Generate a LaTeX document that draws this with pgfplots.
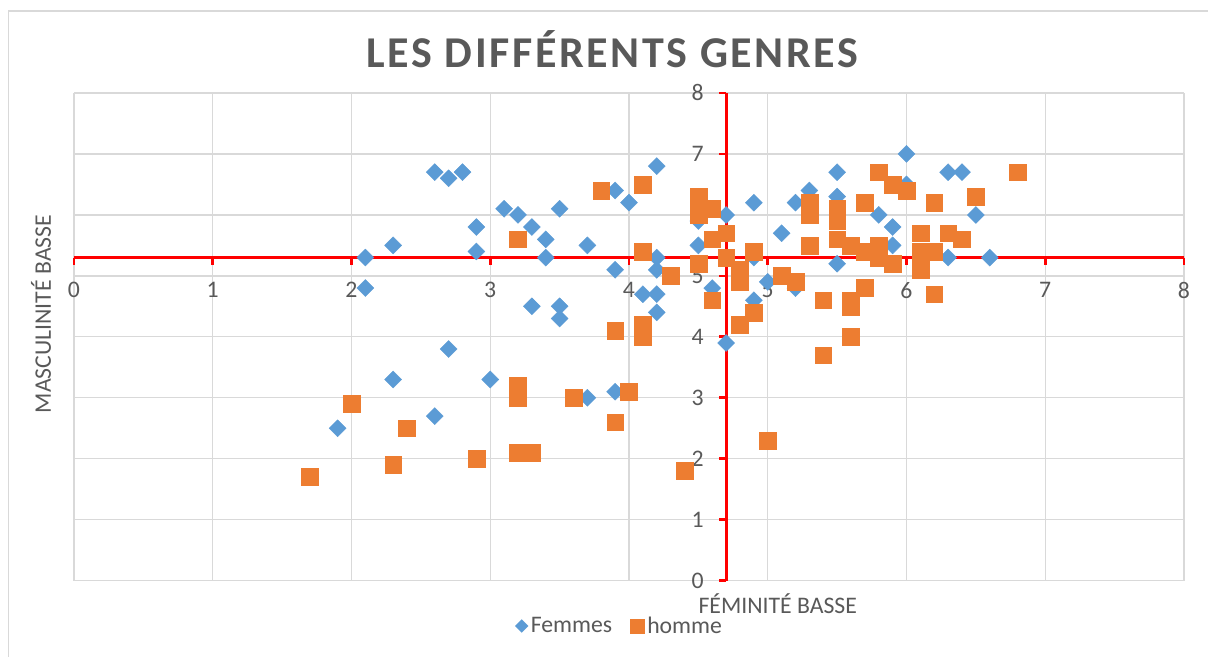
\documentclass[border=0pt]{standalone}
\usepackage{pgfplots}
\pgfplotsset{compat=1.18}
\usepackage{pgfplotstable}
\usepackage{fontspec}
\setmainfont{Carlito}
\newfontfamily\titlefont[LetterSpace=6]{Carlito}
\definecolor{blueF}{HTML}{5B9BD5}
\definecolor{orangeH}{HTML}{ED7D31}
\definecolor{txtgray}{HTML}{595959}
\definecolor{gridgray}{HTML}{D9D9D9}

\pgfplotsset{
  femlegend/.style={legend image code/.code={\draw[##1, mark size=3.4pt, mark repeat=2, mark phase=2] plot coordinates {(0cm,0cm) (0.3cm,0cm) (0.6cm,0cm)};}},
  homlegend/.style={legend image code/.code={\draw[##1, mark size=5.4pt, mark repeat=2, mark phase=2] plot coordinates {(0cm,0cm) (0.25cm,0cm) (0.6cm,0cm)};}},
}

\pgfplotstableread{
x y
1.9 2.5
2.1 5.3
2.1 4.8
2.3 5.5
2.3 3.3
2.6 6.7
2.6 2.7
2.7 6.6
2.7 3.8
2.8 6.7
2.9 5.8
2.9 5.4
3.0 3.3
3.1 6.1
3.2 6.0
3.3 5.8
3.3 4.5
3.4 5.6
3.4 5.3
3.5 6.1
3.5 4.5
3.5 4.3
3.7 5.5
3.7 3.0
3.9 6.4
3.9 5.1
3.9 3.1
4.0 6.2
4.1 4.7
4.2 6.8
4.2 5.3
4.2 5.1
4.2 4.7
4.2 4.4
4.5 5.9
4.5 5.5
4.6 4.8
4.7 6.0
4.7 3.9
4.9 6.2
4.9 5.3
4.9 4.6
5.0 4.9
5.1 5.7
5.2 6.2
5.2 4.8
5.3 6.4
5.5 6.7
5.5 6.3
5.5 5.2
5.8 6.0
5.9 5.8
5.9 5.5
6.0 7.0
6.0 6.5
6.3 6.7
6.4 6.7
6.5 6.0
6.3 5.3
6.6 5.3
}\femmes

\pgfplotstableread{
x y
1.7 1.7
2.0 2.9
2.3 1.9
2.4 2.5
2.9 2.0
3.2 5.6
3.2 3.2
3.2 3.0
3.2 2.1
3.3 2.1
3.6 3.0
3.8 6.4
3.9 4.1
3.9 2.6
4.0 3.1
4.1 6.5
4.1 5.4
4.1 4.2
4.1 4.0
4.3 5.0
4.4 1.8
4.5 6.3
4.5 6.0
4.5 5.2
4.6 6.1
4.6 5.6
4.6 4.6
4.7 5.7
4.7 5.3
4.8 5.1
4.8 4.9
4.8 4.2
4.9 5.4
4.9 4.4
5.0 2.3
5.1 5.0
5.2 4.9
5.3 6.2
5.3 6.0
5.3 5.5
5.4 4.6
5.4 3.7
5.5 6.1
5.5 6.0
5.5 5.9
5.5 5.6
5.6 5.5
5.6 4.6
5.6 4.5
5.6 4.0
5.7 6.2
5.7 5.4
5.7 4.8
5.8 6.7
5.8 5.5
5.8 5.3
5.9 6.5
5.9 5.2
6.0 6.4
6.1 5.7
6.1 5.4
6.1 5.1
6.2 6.2
6.2 5.4
6.2 4.7
6.3 5.7
6.4 5.6
6.5 6.3
6.8 6.7
}\hommes

\begin{document}
\begin{tikzpicture}
\fill[white] (0pt,0pt) rectangle (906pt,492.75pt);
\useasboundingbox (0pt,0pt) rectangle (906pt,492.75pt);
\draw[gridgray, line width=1.2pt] (6.4pt,-15pt) -- (6.4pt,484.5pt) -- (925pt,484.5pt);
\begin{axis}[
  at={(55.5pt,57.225pt)}, anchor=south west,
  width=832.5pt, height=365.8pt, scale only axis,
  xmin=0, xmax=8, ymin=0, ymax=8,
  xtick={0,1,...,8}, ytick={0,1,...,8},
  grid=major,
  major grid style={gridgray, line width=1pt},
  axis line style={draw=none},
  major tick length=0pt,
  /pgf/number format/assume math mode=true,
  tick label style={font=\fontsize{17.8}{20}\selectfont, text=txtgray, inner sep=0pt},
  xticklabel style={anchor=north, yshift=224pt},
  yticklabel style={anchor=east, xshift=472.5pt},
  title={\titlefont\bfseries LES DIFFÉRENTS GENRES},
  title style={at={(axis description cs:0.485,1.0349)}, anchor=base, text=txtgray, font=\fontsize{33}{36}\selectfont, inner sep=0pt},
  xlabel={FÉMINITÉ BASSE},
  xlabel style={at={(axis description cs:0.634,-0.0668)}, anchor=base, text=txtgray, font=\fontsize{17.8}{20}\selectfont, inner sep=0pt},
  ylabel={MASCULINITÉ BASSE},
  ylabel style={at={(axis description cs:-0.0297,0.547)}, anchor=center, text=txtgray, font=\fontsize{17.8}{20}\selectfont, inner sep=0pt},
  legend columns=2,
  legend style={at={(axis description cs:0.4919,-0.0929)}, anchor=center, draw=none, fill=none,
    font=\fontsize{17.8}{20}\selectfont, text=txtgray,
    /tikz/every even column/.append style={column sep=11.5pt}},
  legend cell align=left,
  clip=false,
]
\addplot[red, line width=2.4pt, forget plot] coordinates {(0,5.3) (8,5.3)};
\addplot[red, line width=2.4pt, forget plot] coordinates {(4.7,0) (4.7,8)};
\pgfplotsinvokeforeach{0,1,...,8}{
  \draw[red, line width=2pt] (axis cs:#1,5.3) -- ++(0pt,-5.5pt);
  \draw[red, line width=2pt] (axis cs:4.7,#1) -- ++(-5.5pt,0pt);
}
\addplot[only marks, mark=square*, mark size=4.5pt, mark options={rotate=45, fill=blueF, draw=blueF, line width=0.3pt}, femlegend] table[x=x,y=y] {\femmes};
\addlegendentry{Femmes}
\addplot[only marks, mark=square*, mark size=6.3pt, mark options={fill=orangeH, draw=orangeH, line width=0.3pt}, homlegend] table[x=x,y=y] {\hommes};
\addlegendentry{homme}
\end{axis}
\end{tikzpicture}
\end{document}
